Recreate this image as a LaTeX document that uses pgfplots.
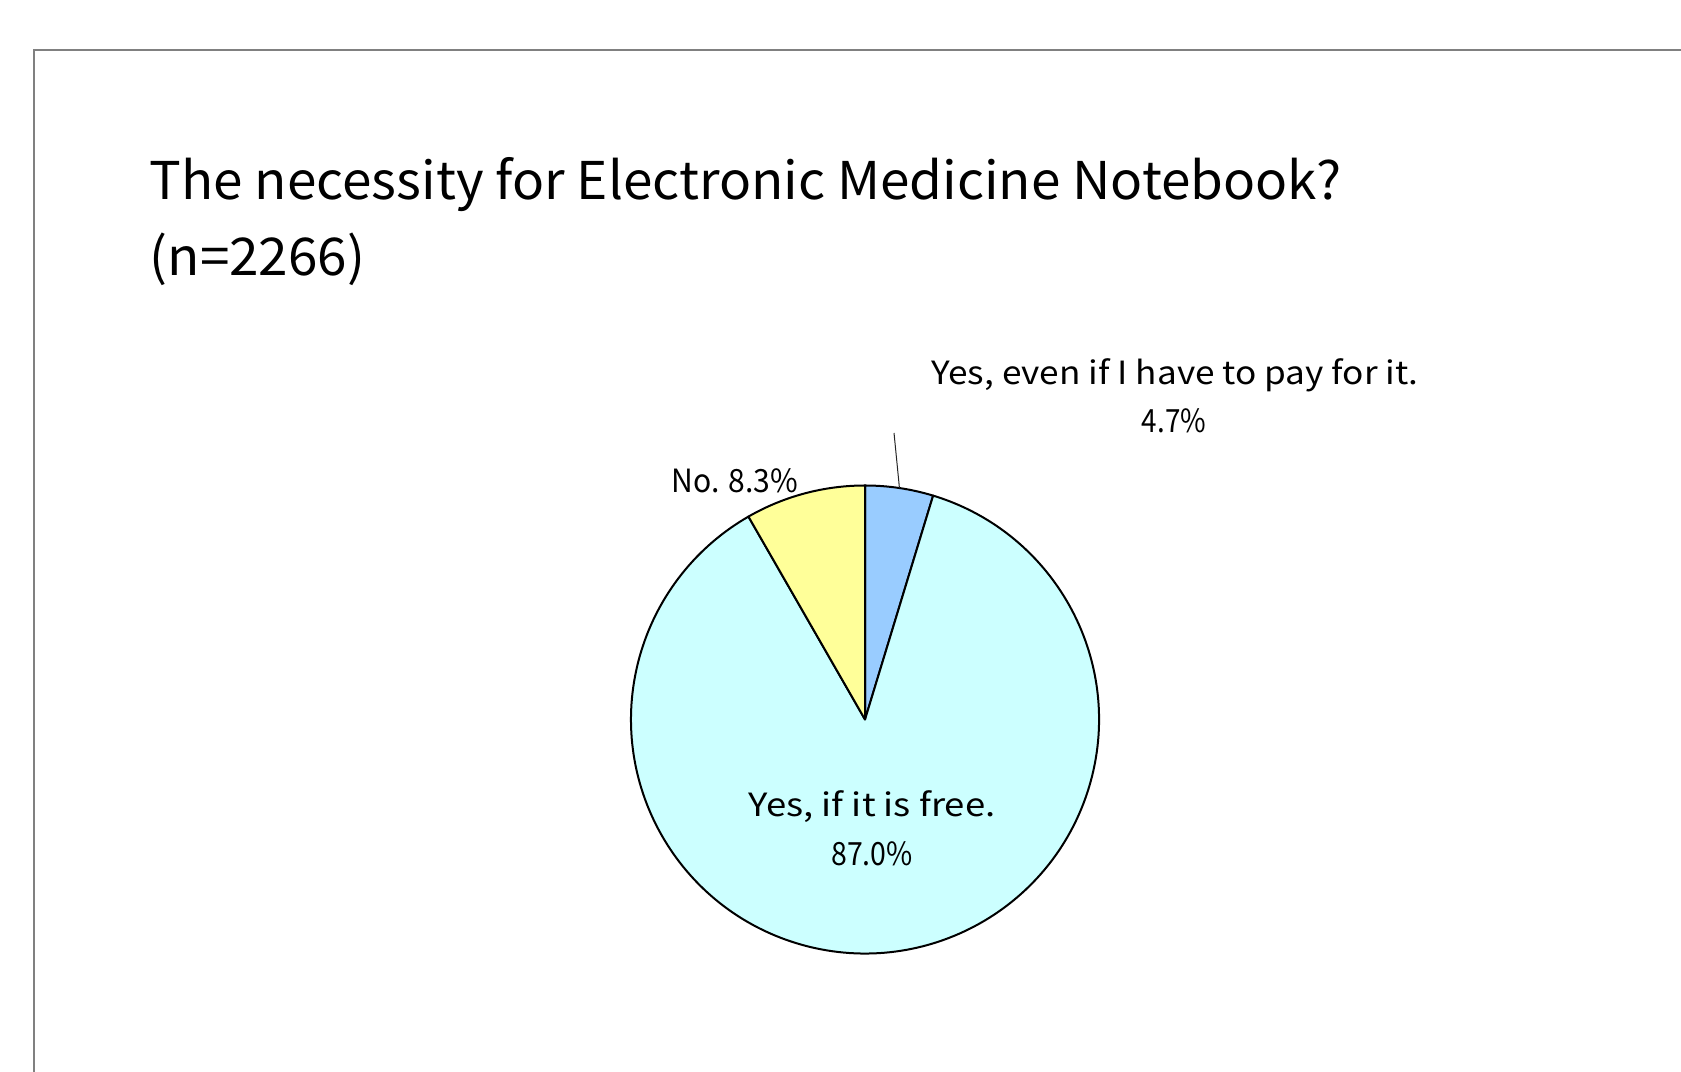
\documentclass[border=0pt]{standalone}
\usepackage{pgfplots}
\pgfplotsset{compat=1.18}
\usepackage{pgfplotstable}
\usepackage{graphicx}
\usepackage{fontspec}
\setmainfont{Noto Sans CJK JP}
\definecolor{sliceA}{HTML}{99CCFF}
\definecolor{sliceB}{HTML}{CCFFFF}
\definecolor{sliceC}{HTML}{FFFF99}
\definecolor{framegray}{HTML}{808080}

\pgfplotstableread{
label value
A 4.7
B 87.0
C 8.3
}\piedata

\begin{document}
\begin{tikzpicture}
\pgfplotstablegetelem{0}{value}\of\piedata \edef\va{\pgfplotsretval}
\pgfplotstablegetelem{1}{value}\of\piedata \edef\vb{\pgfplotsretval}
\pgfplotstablegetelem{2}{value}\of\piedata \edef\vc{\pgfplotsretval}
\pgfmathsetmacro\aA{90-3.6*\va}
\pgfmathsetmacro\aB{\aA-3.6*\vb}
\pgfmathsetmacro\aC{\aB-3.6*\vc}
\pgfmathsetmacro\aMid{90-1.8*\va}
\def\R{23.4mm}
\begin{axis}[
  at={(0,0)}, anchor=south west,
  x=0.1mm, y=0.1mm,
  xmin=0, xmax=1681, ymin=0, ymax=1071,
  hide axis, clip=false,
]
\draw[framegray, line width=0.22mm] (axis cs:34,-20) -- (axis cs:34,1021) -- (axis cs:1700,1021);
\filldraw[fill=sliceA, draw=black, line width=0.2mm, line join=round]
  (axis cs:865,351.5) -- ([shift={(90:\R)}]axis cs:865,351.5) arc[start angle=90, end angle=\aA, radius=\R] -- cycle;
\filldraw[fill=sliceB, draw=black, line width=0.2mm, line join=round]
  (axis cs:865,351.5) -- ([shift={(\aA:\R)}]axis cs:865,351.5) arc[start angle=\aA, end angle=\aB, radius=\R] -- cycle;
\filldraw[fill=sliceC, draw=black, line width=0.2mm, line join=round]
  (axis cs:865,351.5) -- ([shift={(\aB:\R)}]axis cs:865,351.5) arc[start angle=\aB, end angle=\aC, radius=\R] -- cycle;
\draw[black!85, line width=0.1mm] ([shift={(\aMid:\R)}]axis cs:865,351.5) -- (axis cs:894,638);
\node[anchor=base, inner sep=0pt, font=\fontsize{9.1}{11}\selectfont] at (axis cs:1175,686) {\scalebox{1.10}[1]{Yes, even if I have to pay for it.}};
\node[anchor=base, inner sep=0pt, font=\fontsize{9.1}{11}\selectfont] at (axis cs:1174,638) {\scalebox{0.87}[1]{4.7\%}};
\node[anchor=base, inner sep=0pt, font=\fontsize{9.1}{11}\selectfont] at (axis cs:735,578) {\scalebox{0.94}[1]{No. 8.3\%}};
\node[anchor=base, inner sep=0pt, font=\fontsize{9.1}{11}\selectfont] at (axis cs:872,254) {\scalebox{1.14}[1]{Yes, if it is free.}};
\node[anchor=base, inner sep=0pt, font=\fontsize{9.1}{11}\selectfont] at (axis cs:872,205) {\scalebox{0.89}[1]{87.0\%}};
\node[anchor=base west, inner sep=0pt, font=\fontsize{14.8}{18}\selectfont] at (axis cs:149,871) {\scalebox{1.02}[1]{The necessity for Electronic Medicine Notebook?}};
\node[anchor=base west, inner sep=0pt, font=\fontsize{14.8}{18}\selectfont] at (axis cs:149,795) {\scalebox{1.02}[1]{(n=2266)}};
\end{axis}
\pgfresetboundingbox
\useasboundingbox (0,0) rectangle (168.1mm,107.1mm);
\end{tikzpicture}
\end{document}
